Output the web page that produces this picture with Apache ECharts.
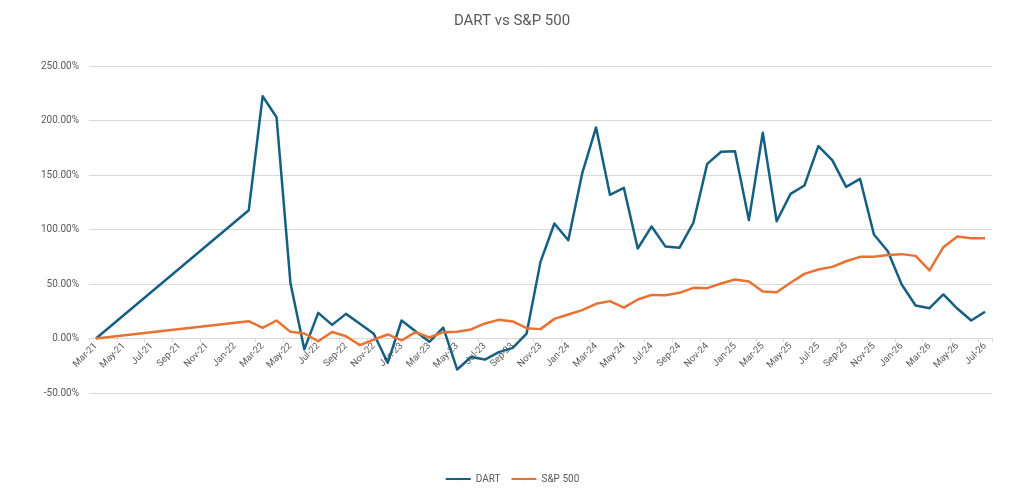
<!DOCTYPE html>
<html>
<head>
<meta charset="utf-8">
<title>DART vs S&amp;P 500</title>
<script src="https://cdn.jsdelivr.net/npm/echarts@6/dist/echarts.min.js"></script>
<style>
  html, body { margin: 0; padding: 0; background: #fff; }
  #main { width: 1024px; height: 496px; }
</style>
</head>
<body>
<div id="main"></div>
<script>
// months on the date axis
var months = [
  'Mar-21','Apr-21','May-21','Jun-21','Jul-21','Aug-21','Sep-21','Oct-21','Nov-21','Dec-21',
  'Jan-22','Feb-22','Mar-22','Apr-22','May-22','Jun-22','Jul-22','Aug-22','Sep-22','Oct-22','Nov-22','Dec-22',
  'Jan-23','Feb-23','Mar-23','Apr-23','May-23','Jun-23','Jul-23','Aug-23','Sep-23','Oct-23','Nov-23','Dec-23',
  'Jan-24','Feb-24','Mar-24','Apr-24','May-24','Jun-24','Jul-24','Aug-24','Sep-24','Oct-24','Nov-24','Dec-24',
  'Jan-25','Feb-25','Mar-25','Apr-25','May-25','Jun-25','Jul-25','Aug-25','Sep-25','Oct-25','Nov-25','Dec-25',
  'Jan-26','Feb-26','Mar-26','Apr-26','May-26','Jun-26','Jul-26'
];

// cumulative return, percent (no data Apr-21 .. Jan-22)
var dart = [
  0, null, null, null, null, null, null, null, null, null,
  null, 117.7, 222.3, 203, 51, -10, 23.5, 12.5, 22.6, 13.5, 4.3, -22.3,
  16.5, 6.7, -3, 10, -28.4, -17, -19.3, -12.5, -8.6, 4.5, 70.3, 105.5,
  90.2, 151.4, 193.6, 131.8, 138.2, 82.6, 102.8, 84.3, 83.2, 106, 160.2, 171.3,
  171.9, 108.6, 188.7, 107.6, 132.7, 140.4, 176.5, 163.6, 139.1, 146.5, 95.4, 80.1,
  49.5, 30.3, 27.8, 40.4, 27.5, 16.5, 24.5
];

var sp500 = [
  0, null, null, null, null, null, null, null, null, null,
  null, 15.9, 9.8, 16.5, 6.1, 4.6, -2.5, 6, 2.1, -6.1, -1, 3.7,
  -1.8, 5.8, 0.9, 5.8, 6.1, 8.3, 13.8, 17.1, 15.6, 9.5, 8.6, 18,
  22, 26, 31.8, 34.3, 28.4, 35.8, 40, 39.6, 41.9, 46.5, 46.2, 50.5,
  54.1, 52.3, 43.1, 42.5, 51.1, 59.3, 63.3, 65.7, 70.9, 74.9, 74.9, 76.5,
  77.4, 75.8, 62.4, 83.8, 93.6, 92, 92
];

var yMin = -50, yMax = 250, yStep = 50;

var gridTop = 66, gridBottom = 103, H = 496;
// lift the category axis up to the zero line (like Excel does)
var plotH = H - gridTop - gridBottom;
var zeroLift = plotH * (0 - yMin) / (yMax - yMin);

var chart = echarts.init(document.getElementById('main'));
var txt = '#595959';
var fontFam = 'Roboto, "Open Sans", sans-serif';

var option = {
  backgroundColor: '#fff',
  animation: false,
  title: {
    text: 'DART vs S&P 500',
    left: 'center',
    top: 9,
    textStyle: { color: txt, fontSize: 15, fontWeight: 'normal', fontFamily: fontFam }
  },
  legend: {
    bottom: 7,
    left: 'center',
    itemWidth: 25,
    itemHeight: 3,
    itemGap: 10,
    textStyle: { color: txt, fontSize: 10, fontFamily: fontFam },
    data: ['DART', 'S&P 500']
  },
  grid: { left: 89, right: 32, top: gridTop, bottom: gridBottom },
  xAxis: {
    type: 'category',
    data: months,
    boundaryGap: true,
    position: 'bottom',
    offset: -zeroLift,
    axisLine: { onZero: false, lineStyle: { color: '#d9d9d9', width: 1 } },
    axisTick: { show: true, interval: 1, length: 4, lineStyle: { color: '#d9d9d9' } },
    axisLabel: {
      interval: 1,
      rotate: 45,
      color: txt,
      fontSize: 9.5,
      fontFamily: fontFam,
      margin: 6
    },
    splitLine: { show: false }
  },
  yAxis: {
    type: 'value',
    min: yMin,
    max: yMax,
    interval: yStep,
    axisLine: { show: false },
    axisTick: { show: false },
    axisLabel: {
      color: txt,
      fontSize: 10,
      fontFamily: fontFam,
      margin: 10,
      formatter: function (v) { return v.toFixed(2) + '%'; }
    },
    splitLine: { lineStyle: { color: '#d9d9d9', width: 1 } }
  },
  series: [
    {
      name: 'DART',
      type: 'line',
      data: dart,
      connectNulls: true,
      showSymbol: false,
      symbol: 'none',
      color: '#156082',
      lineStyle: { width: 2.5, color: '#156082', join: 'round' }
    },
    {
      name: 'S&P 500',
      type: 'line',
      data: sp500,
      connectNulls: true,
      showSymbol: false,
      symbol: 'none',
      color: '#e97132',
      lineStyle: { width: 2.5, color: '#e97132', join: 'round' }
    }
  ]
};

chart.setOption(option);
</script>
</body>
</html>
